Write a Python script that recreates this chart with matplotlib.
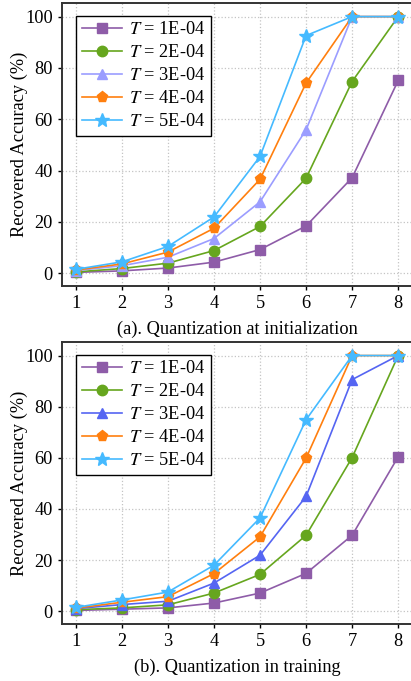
import matplotlib
matplotlib.use("Agg")
import matplotlib.pyplot as plt

plt.rcParams["font.family"] = ["Liberation Serif", "DejaVu Serif"]
plt.rcParams["mathtext.fontset"] = "stix"
plt.rcParams["font.size"] = 13.2

bits = [1, 2, 3, 4, 5, 6, 7, 8]
labels = [r"$T$ = 1E-04", r"$T$ = 2E-04", r"$T$ = 3E-04",
          r"$T$ = 4E-04", r"$T$ = 5E-04"]

# recovered accuracy (%), quantization at initialization
init_acc = [
    [0.3, 0.9, 2.0, 4.3, 9.2, 18.4, 37.2, 75.1],
    [0.5, 1.8, 3.9, 8.8, 18.2, 37.0, 74.7, 100.0],
    [1.0, 2.9, 6.2, 13.5, 27.8, 55.9, 100.0, 100.0],
    [1.2, 3.6, 8.2, 17.5, 36.6, 74.1, 100.0, 100.0],
    [1.5, 4.4, 10.4, 21.9, 45.5, 92.6, 100.0, 100.0],
]

# recovered accuracy (%), quantization in training
train_acc = [
    [0.3, 0.8, 1.3, 3.2, 7.1, 14.8, 29.7, 60.4],
    [0.6, 1.3, 2.5, 7.1, 14.4, 29.7, 60.1, 100.0],
    [1.0, 2.6, 3.9, 11.0, 21.9, 44.9, 90.6, 100.0],
    [1.2, 3.5, 5.7, 14.7, 29.1, 59.9, 100.0, 100.0],
    [1.5, 4.4, 7.5, 18.0, 36.5, 74.9, 100.0, 100.0],
]

markers = ["s", "o", "^", "p", "*"]
msizes = [7, 7.5, 7.5, 8, 10]
colors_a = ["#8e5ca8", "#66a61e", "#9b9dff", "#ff7f0e", "#45baff"]
colors_b = ["#8e5ca8", "#66a61e", "#5565f2", "#ff7f0e", "#45baff"]

W, H = 411, 681
fig = plt.figure(figsize=(W / 100, H / 100), dpi=100)


def panel(top, bottom, data, colors, xlabel):
    left, right = 62, 412
    ax = fig.add_axes([left / W, 1 - bottom / H, (right - left) / W,
                       (bottom - top) / H])
    for vals, c, m, ms, lab in zip(data, colors, markers, msizes, labels):
        ax.plot(bits, vals, marker=m, color=c, markersize=ms, linewidth=1.2,
                label=lab)
    ax.set_xlim(0.7, 8.3)
    ax.set_ylim(-5, 105.3)
    ax.set_xticks(bits)
    ax.set_yticks([0, 20, 40, 60, 80, 100])
    ax.set_ylabel("Recovered Accuracy (%)", labelpad=-2)
    ax.set_xlabel(xlabel, labelpad=6)
    ax.grid(True, linestyle=":", color="#c4c4c4", linewidth=0.9)
    for s in ax.spines.values():
        s.set_linewidth(1.4)
        s.set_color("#333333")
    ax.tick_params(direction="out", length=3, width=1)
    leg = ax.legend(loc="upper left", fancybox=False, edgecolor="black",
                    framealpha=1, handlelength=2.2, borderpad=0.3,
                    labelspacing=0.33, handletextpad=0.4,
                    borderaxespad=0.0, bbox_to_anchor=(0.04, 0.955))
    leg.get_frame().set_linewidth(1.0)
    return ax


panel(3, 286, init_acc, colors_a, "(a). Quantization at initialization")
panel(342, 624, train_acc, colors_b, "(b). Quantization in training")

fig.savefig("out.png", dpi=100)
